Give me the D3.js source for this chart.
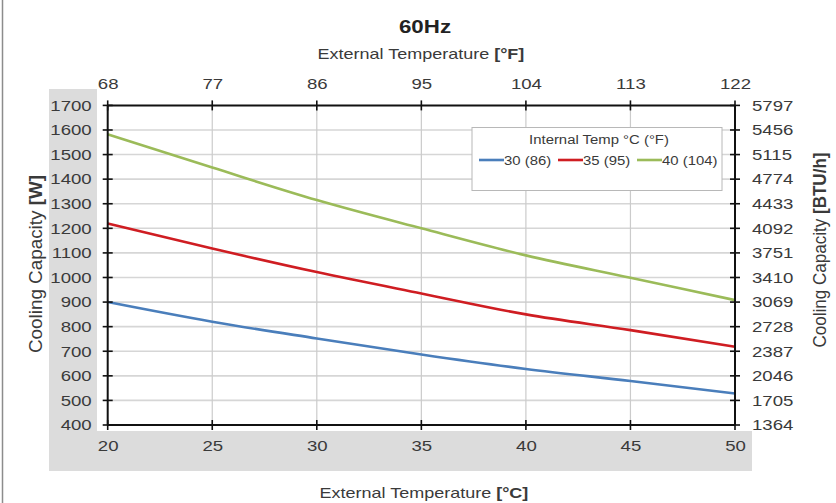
<!DOCTYPE html>
<meta charset="utf-8">
<style>
body{
    margin: 0;
    background: #fff;
}
svg text{
    font-family: "Liberation Sans", Arial, sans-serif;
    fill: #3a3a3a;
}
.grid-h line{
    stroke: #d6d6d6;
    stroke-width: 1.6;
}
.grid-v line{
    stroke: #cbcbcb;
    stroke-width: 1.2;
}
.frame line{
    stroke: #111;
    stroke-width: 2;
}
.tick-mark{
    stroke: #111;
    stroke-width: 1.6;
}
.capacity{
    fill: none;
    stroke-width: 2.6;
}
</style>
<svg width="836" height="503"></svg>
<script src="https://d3js.org/d3.v7.min.js"></script>
<script>

// external temperature in degC, and the matching degF labels on top
var tempC = [20, 25, 30, 35, 40, 45, 50];
var tempF = [68, 77, 86, 95, 104, 113, 122];

// cooling capacity ticks, W on the left and BTU/h on the right
var wattTicks = [400, 500, 600, 700, 800, 900, 1000, 1100, 1200, 1300, 1400, 1500, 1600, 1700];
var btuTicks = [1364, 1705, 2046, 2387, 2728, 3069, 3410, 3751, 4092, 4433, 4774, 5115, 5456, 5797];

// one series per internal temperature
var seriesNames = ['30 (86)', '35 (95)', '40 (104)'];
var cap30 = [900, 820, 752, 687, 628, 579, 528];
var cap35 = [1220, 1118, 1022, 935, 850, 786, 718];
var cap40 = [1582, 1447, 1315, 1200, 1090, 999, 908];

var colour = ['#4a7ebb', '#cf1d22', '#9bbb59'];

var series = [cap30, cap35, cap40].map(function(vals, i){
    return {
        name: seriesNames[i],
        colour: colour[i],
        values: vals.map(function(v, j){ return {t: tempC[j], w: v}; })
    };
});

var svg = d3.select('svg');
var stretchX = 1.24;   // the original text looks widened
var plain = d3.format('d');

var x = d3.scaleLinear().domain([20, 50]).range([107.7, 735]);
var xF = d3.scaleLinear().domain([68, 122]).range([107.7, 735]);
var y = d3.scaleLinear().domain([400, 1700]).range([425, 105.4]);
var yB = d3.scaleLinear().domain([1364, 5797]).range([425, 105.4]);

// frame on the left edge
svg.append('line')
    .attr('x1', 2.5).attr('x2', 2.5)
    .attr('y1', 0).attr('y2', 503)
    .attr('stroke', '#8c8c8c')
    .attr('stroke-width', 1.5);

// grey band behind the left and bottom labels
svg.append('rect')
    .attr('x', 49).attr('y', 89)
    .attr('width', 48).attr('height', 382)
    .attr('fill', '#dcdcdc');
svg.append('rect')
    .attr('x', 49).attr('y', 431)
    .attr('width', 703).attr('height', 40)
    .attr('fill', '#dcdcdc');

// grid
svg.append('g').attr('class', 'grid-h')
    .selectAll('line')
    .data(wattTicks.slice(1, -1))
    .enter().append('line')
    .attr('x1', x(20)).attr('x2', x(50))
    .attr('y1', function(d){ return y(d); })
    .attr('y2', function(d){ return y(d); });

svg.append('g').attr('class', 'grid-v')
    .selectAll('line')
    .data(tempC.slice(1, -1))
    .enter().append('line')
    .attr('y1', y(1700)).attr('y2', y(400))
    .attr('x1', function(d){ return x(d); })
    .attr('x2', function(d){ return x(d); });

// lines
var line = d3.line()
    .x(function(d){ return x(d.t); })
    .y(function(d){ return y(d.w); })
    .curve(d3.curveMonotoneX);

svg.append('g')
    .selectAll('path')
    .data(series)
    .enter().append('path')
    .attr('class', 'capacity')
    .attr('stroke', function(d){ return d.colour; })
    .attr('d', function(d){ return line(d.values); });

// axes drawn with d3 axis, then restyled to the crossing excel ticks
function styleAxis(g){
    g.select('.domain').remove();
    g.selectAll('.tick text')
        .attr('font-size', 15)
        .attr('fill', '#3a3a3a')
        .attr('font-family', '"Liberation Sans", Arial, sans-serif');
    g.selectAll('.tick line').remove();
}

svg.append('g')
    .attr('transform', 'translate(0,' + y(400) + ')')
    .call(d3.axisBottom(x).tickValues(tempC).tickFormat(plain).tickSize(0).tickPadding(15))
    .call(styleAxis);

svg.append('g')
    .attr('transform', 'translate(0,' + y(1700) + ')')
    .call(d3.axisTop(xF).tickValues(tempF).tickFormat(plain).tickSize(0).tickPadding(16))
    .call(styleAxis);

svg.append('g')
    .attr('transform', 'translate(' + x(20) + ',0)')
    .call(d3.axisLeft(y).tickValues(wattTicks).tickFormat(plain).tickSize(0).tickPadding(16))
    .call(styleAxis);

svg.append('g')
    .attr('transform', 'translate(' + x(50) + ',0)')
    .call(d3.axisRight(yB).tickValues(btuTicks).tickFormat(plain).tickSize(0).tickPadding(17))
    .call(styleAxis);

// the box
var frame = svg.append('g').attr('class', 'frame');
frame.append('line').attr('x1', x(20)).attr('x2', x(50)).attr('y1', y(1700)).attr('y2', y(1700));
frame.append('line').attr('x1', x(20)).attr('x2', x(50)).attr('y1', y(400)).attr('y2', y(400));
frame.append('line').attr('x1', x(20)).attr('x2', x(20)).attr('y1', y(1700)).attr('y2', y(400));
frame.append('line').attr('x1', x(50)).attr('x2', x(50)).attr('y1', y(1700)).attr('y2', y(400));

var marks = svg.append('g');
tempC.forEach(function(t){
    [y(1700), y(400)].forEach(function(yy){
        marks.append('line').attr('class', 'tick-mark')
            .attr('x1', x(t)).attr('x2', x(t))
            .attr('y1', yy - 5).attr('y2', yy + 5);
    });
});
wattTicks.forEach(function(w){
    [x(20), x(50)].forEach(function(xx){
        marks.append('line').attr('class', 'tick-mark')
            .attr('x1', xx - 5).attr('x2', xx + 5)
            .attr('y1', y(w)).attr('y2', y(w));
    });
});

// titles
svg.append('text')
    .attr('x', 425).attr('y', 33)
    .attr('text-anchor', 'middle')
    .attr('font-size', 18)
    .attr('font-weight', 'bold')
    .style('fill', '#222')
    .text('60Hz');

function titleText(parent, label, unit){
    parent.append('tspan').text(label + ' ');
    parent.append('tspan').attr('font-weight', 'bold').text(unit);
}

svg.append('text')
    .attr('x', 421).attr('y', 59)
    .attr('text-anchor', 'middle')
    .attr('font-size', 14.5)
    .call(titleText, 'External Temperature', '[°F]');

svg.append('text')
    .attr('x', 424).attr('y', 498)
    .attr('text-anchor', 'middle')
    .attr('font-size', 14.5)
    .call(titleText, 'External Temperature', '[°C]');

// legend
var legend = svg.append('g');
legend.append('rect')
    .attr('x', 472).attr('y', 127.5)
    .attr('width', 250).attr('height', 63)
    .attr('fill', '#fff')
    .attr('stroke', '#b8b8b8');
legend.append('text')
    .attr('x', 599).attr('y', 144)
    .attr('text-anchor', 'middle')
    .attr('font-size', 12)
    .text('Internal Temp °C (°F)');

var legendX = [479, 558, 637];
var item = legend.selectAll('g.item')
    .data(series)
    .enter().append('g')
    .attr('class', 'item')
    .attr('transform', function(d, i){ return 'translate(' + legendX[i] + ',160)'; });
item.append('line')
    .attr('x1', 0).attr('x2', 25)
    .attr('stroke', function(d){ return d.colour; })
    .attr('stroke-width', 2.6);
item.append('text')
    .attr('x', 25).attr('y', 4.5)
    .attr('font-size', 12)
    .text(function(d){ return d.name; });

// widen every horizontal label like the source
svg.selectAll('text').each(function(){
    var w = this.getComputedTextLength();
    this.setAttribute('textLength', w * stretchX);
    this.setAttribute('lengthAdjust', 'spacingAndGlyphs');
});

// vertical titles, added after so they keep their own length
function sideTitle(cx, cy, len, label, unit){
    svg.append('text')
        .attr('transform', 'translate(' + cx + ',' + cy + ') scale(' + stretchX + ',1) rotate(-90)')
        .attr('text-anchor', 'middle')
        .attr('font-size', 15)
        .attr('textLength', len)
        .attr('lengthAdjust', 'spacingAndGlyphs')
        .call(titleText, label, unit);
}
sideTitle(42, 264, 178, 'Cooling  Capacity', '[W]');
sideTitle(826, 250, 195, 'Cooling  Capacity', '[BTU/h]');

</script>
